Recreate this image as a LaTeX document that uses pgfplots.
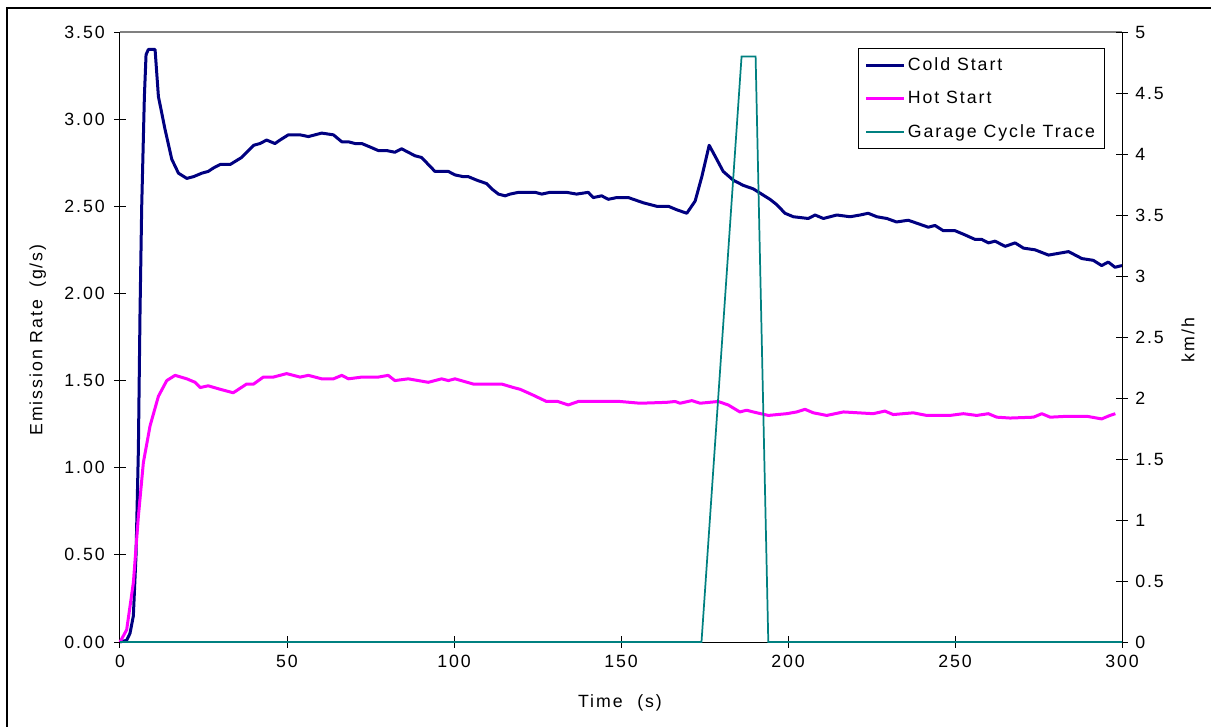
\documentclass[border=0pt]{standalone}
\usepackage{fontspec}
\setmainfont[LetterSpace=11]{Liberation Sans}
\usepackage{pgfplots}
\pgfplotsset{compat=1.18}
\definecolor{navyc}{RGB}{0,0,128}
\definecolor{magc}{RGB}{255,0,255}
\definecolor{tealc}{RGB}{0,128,128}
\newcommand{\chartfont}{\fontsize{13.3}{16}\selectfont}

\pgfplotsset{
  common/.style={
    scale only axis, width=751.5pt, height=457.5pt,
    at={(90pt,63pt)}, anchor=south west,
    xmin=0, xmax=300,
    clip=false,
    tick align=center,
    major tick length=8.8pt,
    tick style={black, line width=0.75pt},
    axis line style={black, line width=0.75pt, -},
    /pgf/number format/assume math mode=true,
    ticklabel style={font=\chartfont},
    label style={font=\chartfont},
  }
}

\begin{document}
\begin{tikzpicture}
\useasboundingbox (0pt,0pt) rectangle (908.25pt,544.5pt);
\draw[line width=1.5pt] (5.25pt,-20pt) -- (5.25pt,538.5pt) -- (930pt,538.5pt);

\begin{axis}[common,
  ymin=0, ymax=3.5,
  axis x line*=bottom, axis y line*=left,
  xtick={0,50,...,300},
  ytick={0,0.5,...,3.5},
  yticklabel style={xshift=-3.5pt, /pgf/number format/.cd, fixed, fixed zerofill, precision=2},
  xticklabel style={yshift=-2pt},
  xlabel={Time\hspace{11pt}(s)},
  ylabel={Emission Rate\hspace{9pt}(g/s)},
  xlabel style={at={(axis description cs:0.499,-0.1)}, anchor=center},
  ylabel style={at={(axis description cs:-0.082,0.495)}, anchor=center},
]
\draw[gray, line width=1.1pt] (rel axis cs:0,1) -- (rel axis cs:1,1);
\addplot[navyc, line width=2.25pt, line join=round] coordinates {
(0,0) (2,0.01) (3,0.05) (4,0.15) (4.8,0.5) (5.5,1.1) (6,1.9) (6.5,2.5) (7.3,3.13) (7.8,3.37) (8.5,3.40) (10.5,3.40)
(11.5,3.13) (13.5,2.94) (15.5,2.77) (17.5,2.69) (20,2.66) (22,2.67) (24.5,2.69) (26.4,2.70) (28,2.72) (30,2.74) (33,2.74)
(36.4,2.78) (40,2.85) (41.9,2.86) (43.9,2.88) (46.4,2.86) (47.9,2.88) (50.4,2.91) (53.9,2.91) (56.4,2.90) (60.4,2.92)
(63.9,2.91) (66.4,2.87) (68.4,2.87) (70.4,2.86) (72.4,2.86) (74.9,2.84) (77.3,2.82) (79.8,2.82) (82.3,2.81) (84.3,2.83)
(86.3,2.81) (88.3,2.79) (90.3,2.78) (92.3,2.74) (94.3,2.70) (96.3,2.70) (98.3,2.70) (100.3,2.68) (102.8,2.67) (104.3,2.67)
(106.8,2.65) (109.8,2.63) (111.3,2.60) (113.3,2.57) (115.3,2.56) (116.8,2.57) (119.3,2.58) (121.8,2.58) (124.3,2.58)
(126.3,2.57) (128.7,2.58) (133.7,2.58) (136.7,2.57) (140.2,2.58) (141.7,2.55) (144.2,2.56) (146.2,2.54) (148.7,2.55)
(152.2,2.55) (156.7,2.52) (160.7,2.50) (164.2,2.50) (166.7,2.48) (169.7,2.46) (172.2,2.53) (174.2,2.67) (176.4,2.85)
(178.1,2.79) (180.6,2.70) (183.6,2.65) (186.6,2.62) (189.6,2.60) (192.1,2.57) (194.6,2.54) (196.6,2.51) (199.1,2.46)
(201.6,2.44) (206.1,2.43) (208.1,2.45) (210.6,2.43) (214.6,2.45) (218.6,2.44) (221.6,2.45) (224,2.46) (226.6,2.44)
(229.6,2.43) (232.5,2.41) (236,2.42) (239,2.40) (242,2.38) (244,2.39) (246.5,2.36) (250,2.36) (252.5,2.34) (256,2.31)
(258,2.31) (260,2.29) (262,2.30) (265,2.27) (268,2.29) (270.5,2.26) (274,2.25) (278,2.22) (281,2.23) (284,2.24)
(288,2.20) (291.4,2.19) (293.9,2.16) (295.9,2.18) (297.9,2.15) (300,2.16)
};
\addplot[magc, line width=2.25pt, line join=round] coordinates {
(0,0) (2,0.07) (4,0.34) (5.5,0.72) (7,1.03) (9,1.24) (11.5,1.41) (14,1.50) (16.5,1.53) (20,1.51) (22.5,1.49) (24,1.46)
(26.4,1.47) (30,1.45) (33.9,1.43) (37.9,1.48) (40,1.48) (42.9,1.52) (45.9,1.52) (49.9,1.54) (53.9,1.52) (56.4,1.53)
(60.4,1.51) (63.9,1.51) (66.4,1.53) (68.4,1.51) (72.4,1.52) (77.3,1.52) (80.3,1.53) (82.3,1.50) (86.3,1.51) (92.3,1.49)
(96.3,1.51) (98.3,1.50) (100.3,1.51) (105.8,1.48) (110.3,1.48) (114.3,1.48) (117.8,1.46) (119.8,1.45) (123.3,1.42)
(127.7,1.38) (131.1,1.38) (134.2,1.36) (137.2,1.38) (143.2,1.38) (149.7,1.38) (155.7,1.37) (163.6,1.375) (166.2,1.38)
(167.7,1.37) (171.2,1.385) (173.7,1.37) (179.1,1.38) (182.1,1.36) (185.6,1.32) (187.6,1.33) (189.6,1.32) (194.1,1.30)
(199.6,1.31) (202.6,1.32) (205.1,1.335) (207.6,1.315) (211.6,1.30) (216.6,1.32) (225.5,1.31) (229,1.325) (231.5,1.305)
(237.5,1.315) (241.5,1.30) (248.5,1.30) (252.5,1.31) (256.5,1.30) (260,1.31) (262.5,1.29) (266.5,1.285) (273.5,1.29)
(276,1.31) (278.5,1.29) (283.5,1.295) (289.5,1.295) (293.9,1.28) (296.4,1.30) (298,1.31)
};
\end{axis}

\begin{axis}[common,
  ymin=0, ymax=5,
  axis y line*=right, axis x line=none,
  ytick={0,0.5,...,5},
  yticklabel style={xshift=2pt},
  ylabel={km/h},
  ylabel style={at={(axis description cs:1.066,0.495)}, anchor=center, rotate=0},
  legend style={at={(axis description cs:0.983,0.974)}, anchor=north east,
    draw=black, line width=0.75pt, fill=white, font=\chartfont,
    inner xsep=5pt, inner ysep=5pt, row sep=10pt, cells={anchor=west}},
  legend image code/.code={\draw[#1] (0pt,0pt) -- (28pt,0pt);},
]
\addlegendimage{navyc, line width=2.25pt}
\addlegendentry{Cold Start}
\addlegendimage{magc, line width=2.25pt}
\addlegendentry{Hot Start}
\addplot[tealc, line width=1.3pt] coordinates {
(0,0) (174.1,0) (186.1,4.8) (190.3,4.8) (194.1,0) (300,0)
};
\addlegendentry{Garage Cycle Trace}
\end{axis}
\end{tikzpicture}
\end{document}
